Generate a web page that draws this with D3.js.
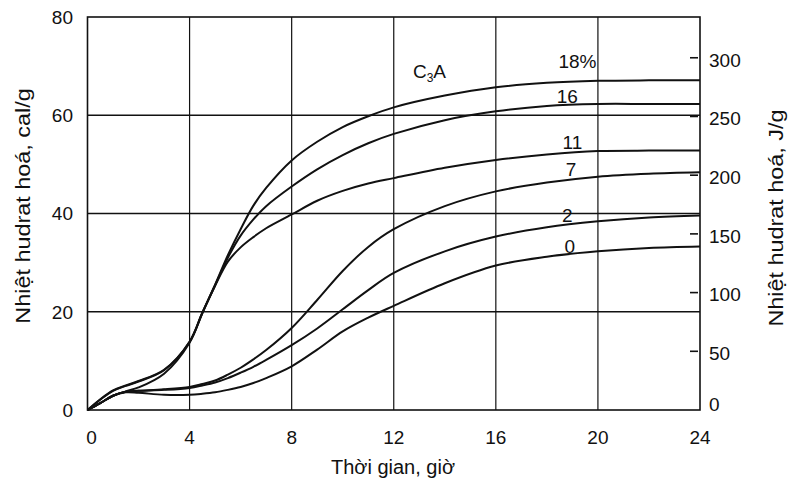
<!DOCTYPE html>
<html>
<head>
<meta charset="utf-8">
<script src="https://cdn.jsdelivr.net/npm/d3@7"></script>
<style>
  body { margin: 0; background: #fff; }
  svg text { font-family: "Liberation Sans", Arial, sans-serif; fill: #111; }
</style>
</head>
<body>
<svg id="chart" width="796" height="486"></svg>
<script>
// hours after mixing
const hours = [0, 0.5, 1, 1.5, 2, 3, 4, 4.5, 5, 5.5, 6, 6.5, 7, 8, 9, 10, 11, 12, 14, 16, 18, 20, 22, 24];

// heat of hydration, cal/g, by C3A content
const c3a18 = [0, 2.2, 4.0, 5.0, 5.9, 8.2, 13.9, 19.8, 25.5, 31.5, 36.8, 41.6, 45.2, 50.8, 54.6, 57.6, 59.8, 61.6, 64.0, 65.7, 66.6, 67.0, 67.1, 67.1];
const c3a16 = [0, 2.1, 3.9, 4.9, 5.8, 8.1, 13.9, 19.8, 25.4, 31.0, 35.5, 38.8, 41.5, 45.5, 49.0, 51.9, 54.3, 56.2, 59.0, 60.8, 61.9, 62.3, 62.3, 62.3];
const c3a11 = [0, 1.4, 2.9, 3.8, 4.6, 7.4, 13.7, 19.7, 25.3, 30.2, 33.1, 35.2, 37.0, 39.8, 42.6, 44.6, 46.1, 47.2, 49.3, 50.9, 52.0, 52.7, 52.8, 52.8];
const c3a7  = [0, 1.4, 2.9, 3.7, 3.9, 4.2, 4.7, 5.3, 6.0, 7.2, 8.6, 10.3, 12.2, 16.7, 22.4, 28.3, 33.2, 36.8, 41.5, 44.5, 46.3, 47.5, 48.1, 48.4];
const c3a2  = [0, 1.4, 2.9, 3.7, 3.9, 4.1, 4.5, 5.0, 5.6, 6.5, 7.6, 8.8, 10.2, 13.2, 16.6, 20.5, 24.4, 27.9, 32.3, 35.3, 37.2, 38.4, 39.2, 39.6];
const c3a0  = [0, 1.4, 2.9, 3.6, 3.5, 3.1, 3.1, 3.3, 3.6, 4.1, 4.7, 5.5, 6.5, 8.9, 12.3, 16.0, 18.8, 21.2, 25.8, 29.4, 31.2, 32.3, 33.0, 33.3];

const seriesLabels = ["18%", "16", "11", "7", "2", "0"];
// where each label sits (hour, cal/g)
const labelHours = [19.2, 18.8, 19.0, 18.95, 18.8, 18.9];
const labelValues = [69.7, 62.5, 53.2, 47.7, 38.3, 32.0];

const xTicks = [0, 4, 8, 12, 16, 20, 24];
const yTicks = [0, 20, 40, 60, 80];
const yTicksJ = [0, 50, 100, 150, 200, 250, 300];
const calToJ = 4.184;

const svg = d3.select("#chart");

const x = d3.scaleLinear().domain([0, 24]).range([87.5, 700]);
const y = d3.scaleLinear().domain([0, 80]).range([410, 17]);
const yJ = d3.scaleLinear().domain([0, 80 * calToJ]).range([410, 17]);

// grid
const grid = svg.append("g").attr("stroke", "#111");
grid.selectAll(".vg").data(xTicks.slice(1, -1)).enter().append("line")
  .attr("x1", d => x(d)).attr("x2", d => x(d))
  .attr("y1", y(0)).attr("y2", y(80))
  .attr("stroke-width", 1.2);
grid.selectAll(".hg").data(yTicks.slice(1, -1)).enter().append("line")
  .attr("x1", x(0)).attr("x2", x(24))
  .attr("y1", d => y(d)).attr("y2", d => y(d))
  .attr("stroke-width", 1.6);

svg.append("rect")
  .attr("x", x(0)).attr("y", y(80))
  .attr("width", x(24) - x(0)).attr("height", y(0) - y(80))
  .attr("fill", "none").attr("stroke", "#111").attr("stroke-width", 1.6);

// left axis labels
svg.selectAll(".yl").data(yTicks).enter().append("text")
  .attr("x", 73).attr("y", d => y(d)).attr("dy", "0.36em")
  .attr("text-anchor", "end").attr("font-size", 19).text(d => d);

// right axis: short dashes inside the frame + labels
svg.selectAll(".yrt").data(yTicksJ.slice(1)).enter().append("line")
  .attr("x1", x(24) - 10).attr("x2", x(24) - 2)
  .attr("y1", d => yJ(d)).attr("y2", d => yJ(d))
  .attr("stroke", "#111").attr("stroke-width", 1.6);
svg.selectAll(".yr").data(yTicksJ).enter().append("text")
  .attr("x", 709).attr("y", d => yJ(d) + (d === 0 ? -6 : 2)).attr("dy", "0.36em")
  .attr("font-size", 19).text(d => d);

// bottom axis labels
svg.selectAll(".xl").data(xTicks).enter().append("text")
  .attr("x", d => x(d) + (d === 0 ? 4 : 0)).attr("y", 437).attr("dy", "0.36em")
  .attr("text-anchor", "middle").attr("font-size", 19).text(d => d);

// axis titles (scan is stretched a bit vertically)
svg.append("text").attr("x", 393).attr("y", 467).attr("dy", "0.36em")
  .attr("text-anchor", "middle").attr("font-size", 20).text("Thời gian, giờ");
svg.append("text").attr("transform", "translate(23,206) rotate(-90) scale(1.17,1)")
  .attr("dy", "0.36em").attr("text-anchor", "middle").attr("font-size", 20)
  .text("Nhiệt hudrat hoá, cal/g");
svg.append("text").attr("transform", "translate(776,218) rotate(-90) scale(1.17,1)")
  .attr("dy", "0.36em").attr("text-anchor", "middle").attr("font-size", 20)
  .text("Nhiệt hudrat hoá, J/g");

// curves
const series = [c3a18, c3a16, c3a11, c3a7, c3a2, c3a0];
const line = d3.line()
  .x((d, i) => x(hours[i]))
  .y(d => y(d))
  .curve(d3.curveCatmullRom.alpha(0.5));

svg.append("g").selectAll("path").data(series).enter().append("path")
  .attr("d", line)
  .attr("fill", "none").attr("stroke", "#111").attr("stroke-width", 2);

// curve labels
svg.selectAll(".cl").data(seriesLabels).enter().append("text")
  .attr("x", (d, i) => x(labelHours[i])).attr("y", (d, i) => y(labelValues[i]))
  .attr("text-anchor", "middle").attr("font-size", 19).text(d => d);

const c3 = svg.append("text").attr("x", x(12.75)).attr("y", y(67.6)).attr("font-size", 19);
c3.append("tspan").text("C");
c3.append("tspan").attr("font-size", 12).attr("dy", 4).text("3");
c3.append("tspan").attr("dy", -4).text("A");
</script>
</body>
</html>
